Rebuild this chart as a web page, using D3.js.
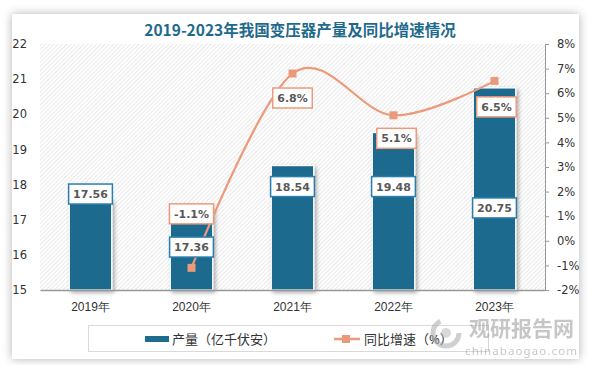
<!DOCTYPE html>
<html><head><meta charset="utf-8">
<script src="https://cdn.jsdelivr.net/npm/d3@7"></script>
<style>
html,body{margin:0;padding:0;background:#fff;}
svg{display:block;font-family:"Noto Sans","Noto Sans CJK SC",sans-serif;}
</style></head>
<body><svg id="c" width="591" height="365"></svg>
<script>
const years = ["2019年","2020年","2021年","2022年","2023年"];
const output = [17.56, 17.36, 18.54, 19.48, 20.75];
const growth = [null, -1.1, 6.8, 5.1, 6.5];
const leftTicks = [15,16,17,18,19,20,21,22];
const rightTicks = [-2,-1,0,1,2,3,4,5,6,7,8];
const title = "2019-2023年我国变压器产量及同比增速情况";
const legendNames = ["产量（亿千伏安）","同比增速（%）"];

// label layout offsets (pixels relative to marks)
const barLabelDy = [-6, 40, 21, 54, 120];
const lineLabelDy = [0, -54, 24.5, 23, 26];
const lineLabelDx = [0, 0, 0, 3, 2];

const W=591,H=365;
const M={l:40,r:545,t:44,b:290};
const svg=d3.select("#c");
const defs=svg.append("defs");
const pat=defs.append("pattern").attr("id","hatch").attr("patternUnits","userSpaceOnUse").attr("width",3).attr("height",3).attr("patternTransform","rotate(45)");
pat.append("rect").attr("width",3).attr("height",3).attr("fill","#fff");
pat.append("line").attr("x1",0).attr("y1",0).attr("x2",0).attr("y2",3).attr("stroke","#d4d4d4").attr("stroke-width",1);
const fs=defs.append("filter").attr("id","sh").attr("x","-20%").attr("y","-20%").attr("width","160%").attr("height","160%");
fs.append("feDropShadow").attr("dx",2).attr("dy",2).attr("stdDeviation",2).attr("flood-color","#000").attr("flood-opacity",0.35);
const fc=defs.append("filter").attr("id","card").attr("x","-10%").attr("y","-10%").attr("width","120%").attr("height","120%");
fc.append("feDropShadow").attr("dx",0).attr("dy",0).attr("stdDeviation",5).attr("flood-color","#000").attr("flood-opacity",0.3);

// card
svg.append("rect").attr("x",12).attr("y",14).attr("width",567).attr("height",345).attr("fill","#fff").attr("filter","url(#card)");

svg.append("text").attr("x",300).attr("y",36).attr("text-anchor","middle").attr("font-size",15.5).attr("font-weight","bold")
  .attr("font-family","'Noto Sans CJK SC',sans-serif").attr("fill","#1e6a8c").text(title);

const x=d3.scaleBand().domain(years).range([M.l,M.r]).paddingInner(0.58).paddingOuter(0.29);
const yL=d3.scaleLinear().domain([15,22]).range([M.b,M.t]);
const yR=d3.scaleLinear().domain([-2,8]).range([M.b,M.t]);

svg.append("rect").attr("x",M.l).attr("y",M.t).attr("width",M.r-M.l).attr("height",M.b-M.t).attr("fill","url(#hatch)");

// left axis labels
const gl=svg.append("g").attr("transform",`translate(${M.l},0)`).call(d3.axisLeft(yL).tickValues(leftTicks).tickSize(0).tickPadding(13).tickFormat(d3.format("d")));
gl.select(".domain").remove();
gl.selectAll("text").attr("fill","#333").attr("font-family","'DejaVu Sans',sans-serif").attr("font-size",11.5);

// right axis
const gr=svg.append("g").attr("transform",`translate(${M.r},0)`).call(d3.axisRight(yR).tickValues(rightTicks).tickSize(4).tickPadding(8).tickFormat(d=>d+"%"));
gr.select(".domain").attr("stroke","#999");
gr.selectAll(".tick line").attr("stroke","#999");
gr.selectAll("text").attr("fill","#333").attr("font-family","'DejaVu Sans',sans-serif").attr("font-size",11.5);

// bars
svg.append("g").selectAll("rect").data(output).join("rect")
  .attr("x",(d,i)=>x(years[i])).attr("width",x.bandwidth())
  .attr("y",d=>yL(d)).attr("height",d=>yL(15)-yL(d))
  .attr("fill","#1d6b8e").attr("stroke","#fff").attr("stroke-width",1.2).attr("filter","url(#sh)");

// bottom axis
const gb=svg.append("g").attr("transform",`translate(0,${M.b})`).call(d3.axisBottom(x).tickSize(0).tickPadding(12));
gb.select(".domain").attr("stroke","#999").attr("stroke-width",1.5);
gb.selectAll("text").attr("font-size",12).attr("fill","#333");

// line
const pts=growth.map((v,i)=>v==null?null:[x(years[i])+x.bandwidth()/2,yR(v)]).filter(p=>p);
svg.append("path").attr("d",d3.line().curve(d3.curveCardinal.tension(0))(pts)).attr("fill","none").attr("stroke","#ec9a7b").attr("stroke-width",2.2);
svg.append("g").selectAll("rect").data(pts).join("rect")
  .attr("x",d=>d[0]-4).attr("y",d=>d[1]-4).attr("width",8).attr("height",8).attr("fill","#e99a7c");

function box(cx,cy,txt,col){
  const g=svg.append("g");
  const t=g.append("text").attr("x",cx).attr("y",cy+4).attr("text-anchor","middle").attr("font-size",11).attr("font-weight","bold").attr("fill","#595959").attr("font-family","'DejaVu Sans',sans-serif").text(txt);
  const w=t.node().getComputedTextLength()+9;
  g.insert("rect","text").attr("x",cx-w/2).attr("y",cy-10).attr("width",w).attr("height",20).attr("fill","#fff").attr("stroke",col).attr("stroke-width",1.5);
}
output.forEach((v,i)=>box(x(years[i])+x.bandwidth()/2,yL(v)+barLabelDy[i],d3.format(".2f")(v),"#2a7db0"));
growth.forEach((v,i)=>{ if(v==null) return; box(x(years[i])+x.bandwidth()/2+lineLabelDx[i],yR(v)+lineLabelDy[i],v.toFixed(1)+"%","#ec9a7b");});

// legend
svg.append("rect").attr("x",88.5).attr("y",325.5).attr("width",400).attr("height",26).attr("fill","#fff").attr("stroke","#d9d9d9");
svg.append("rect").attr("x",145).attr("y",336).attr("width",24).attr("height",6).attr("fill","#1d6b8e");
svg.append("text").attr("x",172).attr("y",344).attr("font-size",13).attr("fill","#333").text(legendNames[0]);
svg.append("line").attr("x1",334).attr("x2",360).attr("y1",339).attr("y2",339).attr("stroke","#ec9a7b").attr("stroke-width",2.5);
svg.append("rect").attr("x",342).attr("y",335).attr("width",8).attr("height",8).attr("fill","#e99a7c");
svg.append("text").attr("x",364).attr("y",344).attr("font-size",13).attr("fill","#333").text(legendNames[1]);

// watermark
const wm=svg.append("g").attr("opacity",0.55);
wm.append("circle").attr("cx",446).attr("cy",333).attr("r",13).attr("fill","none").attr("stroke","#aaa").attr("stroke-width",5).attr("stroke-dasharray","55 27");
wm.append("circle").attr("cx",446).attr("cy",333).attr("r",5).attr("fill","#bbb");
wm.append("text").attr("x",469).attr("y",336).attr("font-size",21).attr("font-weight","bold").attr("fill","#999").attr("font-family","'Noto Sans CJK SC',sans-serif").text("观研报告网");
wm.append("text").attr("x",465).attr("y",355).attr("font-size",11.5).attr("fill","#999").attr("textLength",112).text("chinabaogao.com");
</script></body></html>
